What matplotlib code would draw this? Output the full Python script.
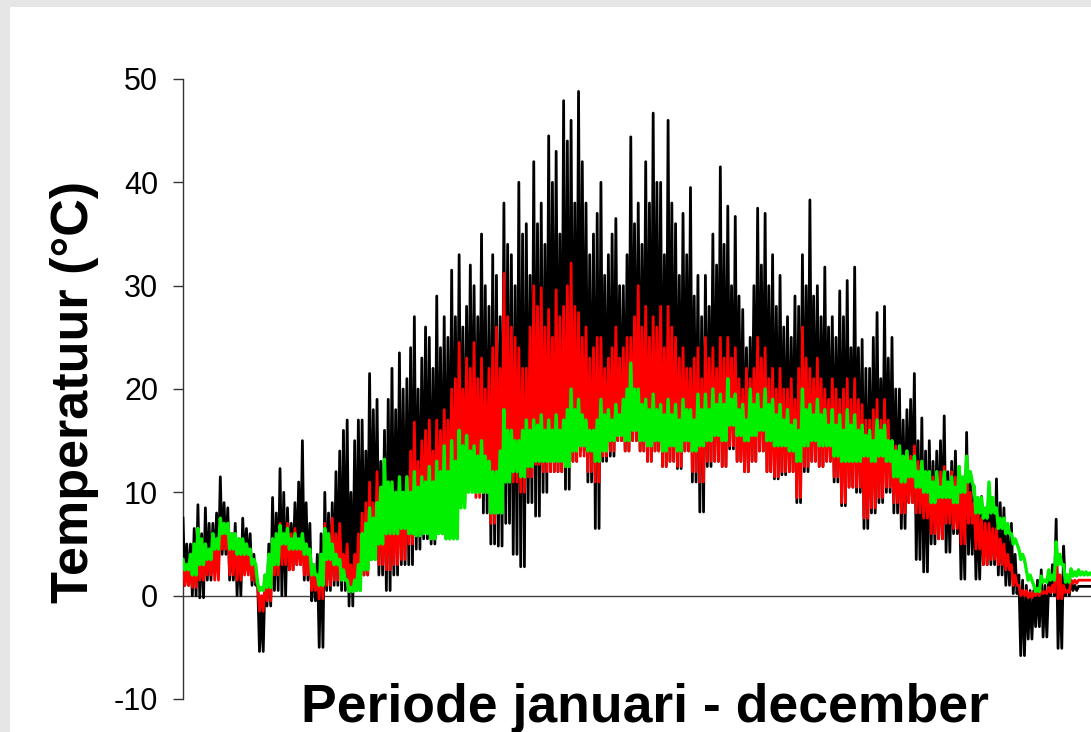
import numpy as np
import matplotlib
matplotlib.use("Agg")
import matplotlib.pyplot as plt
from matplotlib.patches import Rectangle

# values, one group every 3 days (jan -> dec):
# main peak, low, secondary peak
black_hi = [7.5, 5.0, 8.8, 8.5, 7.0, 11.5, 8.5, 7.0, 7.5, 6.0,
            1.5, 2.0, 9.5, 12.3, 8.5, 9.0, 15.0, 7.0, 4.0, 10.0,
            9.0, 14.0, 17.0, 15.0, 17.0, 21.5, 19.0, 16.0, 22.0, 23.5,
            21.0, 27.0, 23.0, 25.0, 29.0, 27.0, 31.5, 33.0, 28.0, 30.0,
            35.0, 28.0, 31.0, 38.0, 33.0, 40.0, 36.0, 42.0, 38.0, 44.5,
            43.0, 47.9, 46.0, 48.8, 38.0, 35.0, 40.0, 33.0, 36.5, 30.0,
            44.4, 38.0, 42.0, 46.7, 40.0, 46.0, 36.0, 37.0, 39.5, 31.0,
            31.0, 35.0, 41.5, 37.7, 36.7, 27.7, 25.0, 37.5, 37.0, 33.0,
            31.0, 27.0, 29.0, 33.0, 38.3, 30.0, 31.8, 27.0, 29.5, 30.5,
            31.8, 24.8, 22.0, 27.4, 28.0, 25.0, 20.0, 18.0, 21.5, 17.2,
            15.0, 14.0, 17.4, 13.0, 12.0, 15.8, 10.6, 9.6, 10.0, 11.3,
            8.5, 7.0, 2.0, 1.0, 0.5, 2.5, 1.5, 7.4, 4.8, 1.5, 0.9, 0.9]
black_lo = [1.0, 0.0, -0.2, 1.5, 2.5, 4.0, 1.5, 0.0, 3.0, 1.0,
            -5.4, -1.0, 0.5, 0.0, 2.5, 3.0, 1.5, -0.5, -5.0, 0.5,
            1.0, 0.5, -1.0, 0.5, 2.0, 3.5, 2.0, 0.5, 2.0, 3.0,
            3.0, 4.5, 5.5, 5.0, 6.0, 5.5, 8.0, 9.0, 11.0, 10.0,
            8.0, 5.0, 4.8, 7.0, 4.0, 2.8, 9.0, 7.7, 10.0, 12.0,
            12.0, 10.3, 13.0, 14.0, 11.0, 6.5, 13.0, 13.5, 15.0, 14.0,
            15.0, 14.0, 13.0, 14.0, 12.5, 13.0, 12.3, 14.0, 11.0, 8.1,
            12.5, 13.0, 12.5, 14.2, 13.0, 12.0, 13.0, 14.0, 12.0, 11.3,
            11.7, 12.0, 9.0, 12.0, 13.0, 12.5, 13.0, 11.0, 8.7, 10.5,
            10.0, 6.5, 8.0, 9.0, 10.0, 8.0, 6.5, 9.0, 3.5, 2.3,
            5.0, 5.5, 4.2, 6.0, 1.6, 4.0, 1.6, 3.0, 3.0, 2.0,
            1.0, 0.2, -5.8, -4.2, -3.0, -4.0, 0.0, -5.1, 0.0, 0.5, 0.9, 0.9]
black_mid = [5.0, 6.5, 6.0, 7.0, 8.0, 9.0, 6.0, 5.5, 6.5, 4.0,
             -1.0, 5.0, 8.0, 10.0, 7.0, 11.0, 9.0, 3.0, 6.0, 8.0,
             12.0, 16.0, 10.0, 17.0, 14.0, 18.0, 13.0, 19.0, 18.0, 20.0,
             24.0, 20.0, 26.0, 22.0, 24.0, 25.0, 27.0, 26.0, 32.0, 27.0,
             30.0, 33.0, 27.0, 34.0, 30.0, 35.0, 31.0, 36.0, 34.0, 40.0,
             35.0, 44.0, 38.0, 42.0, 33.0, 37.0, 31.0, 35.0, 30.0, 33.0,
             36.0, 34.0, 38.0, 40.0, 33.0, 38.0, 31.0, 33.0, 29.0, 27.0,
             28.0, 32.0, 34.0, 30.0, 29.0, 24.0, 30.0, 32.0, 30.0, 28.0,
             26.0, 25.0, 28.0, 30.0, 29.0, 27.0, 26.0, 25.0, 27.0, 24.0,
             24.0, 22.0, 25.0, 21.0, 23.0, 20.0, 17.0, 19.0, 15.0, 14.0,
             13.0, 15.0, 12.0, 14.0, 10.0, 11.0, 9.0, 8.0, 8.5, 9.0,
             6.0, 4.0, 1.5, 0.5, 1.5, 1.0, 3.0, 2.0, 2.0, 1.0, 0.9, 0.9]

red_hi = [3.5, 3.0, 4.0, 5.0, 5.5, 7.5, 7.0, 6.0, 5.0, 4.5,
          1.0, 1.5, 5.5, 7.0, 7.0, 6.5, 6.0, 4.0, 2.0, 7.0,
          7.5, 7.0, 5.0, 4.0, 8.0, 11.0, 12.0, 9.0, 11.0, 11.0,
          11.5, 16.8, 15.0, 17.0, 17.0, 18.0, 20.0, 24.5, 23.0, 24.5,
          23.0, 22.0, 26.0, 31.2, 26.0, 24.0, 22.0, 30.0, 29.8, 27.7,
          29.6, 28.0, 32.2, 27.4, 26.0, 24.0, 25.0, 23.0, 26.0, 24.0,
          25.0, 30.0, 28.0, 27.0, 28.0, 28.0, 25.0, 24.0, 22.0, 24.0,
          25.0, 24.0, 25.0, 25.0, 24.0, 20.0, 21.0, 25.0, 24.0, 22.0,
          22.0, 20.0, 19.0, 26.0, 22.0, 23.0, 20.0, 21.0, 19.0, 21.0,
          21.0, 18.5, 17.0, 19.0, 19.0, 15.0, 14.0, 14.0, 14.5, 13.0,
          12.0, 11.0, 12.5, 12.0, 12.5, 13.5, 9.0, 7.5, 7.0, 6.5,
          5.0, 3.0, 1.0, 0.5, 0.3, 0.5, 0.8, 5.0, 1.0, 1.5, 1.5, 1.5]
red_lo = [1.0, 0.8, 1.5, 2.0, 1.5, 4.5, 2.0, 1.5, 2.0, 1.5,
          -1.5, -0.5, 2.0, 3.0, 2.5, 3.0, 2.0, 0.5, -0.3, 1.0,
          1.5, 2.0, 0.5, 1.0, 2.0, 3.5, 3.0, 2.5, 3.0, 3.5,
          5.0, 6.0, 7.0, 7.5, 8.0, 9.0, 10.0, 12.0, 10.5, 9.5,
          10.0, 7.0, 9.0, 12.0, 11.0, 10.0, 11.5, 12.7, 12.0, 12.0,
          12.0, 12.5, 13.0, 13.5, 12.0, 11.0, 13.5, 14.0, 15.0, 14.0,
          15.0, 14.0, 13.0, 14.0, 12.5, 13.0, 12.5, 14.0, 12.0, 11.0,
          13.0, 13.0, 12.5, 14.5, 13.0, 12.0, 13.0, 14.0, 12.0, 11.5,
          12.0, 12.0, 9.5, 12.5, 13.0, 12.5, 13.0, 11.5, 9.0, 10.5,
          10.5, 7.5, 8.5, 9.5, 10.5, 9.0, 8.0, 9.0, 8.0, 7.5,
          6.0, 5.5, 7.0, 6.5, 5.0, 7.0, 4.5, 3.0, 3.5, 3.0,
          2.5, 1.0, 0.0, -0.2, 0.0, 0.2, 0.3, -0.3, 0.3, 1.2, 1.5, 1.5]
red_mid = [2.5, 3.5, 3.0, 4.5, 5.0, 6.5, 6.0, 5.0, 4.0, 3.5,
           0.0, 3.5, 5.0, 6.0, 6.0, 5.5, 5.0, 2.0, 3.5, 6.0,
           6.0, 4.0, 3.0, 6.0, 9.0, 9.0, 10.0, 10.0, 9.0, 10.0,
           14.0, 13.0, 16.0, 14.0, 16.0, 17.0, 21.0, 20.0, 22.0, 21.0,
           20.0, 24.0, 22.0, 27.0, 25.0, 22.0, 26.0, 28.0, 26.0, 25.0,
           27.0, 30.0, 28.0, 25.0, 23.0, 25.0, 22.0, 24.0, 23.0, 25.0,
           27.0, 26.0, 25.0, 26.0, 24.0, 26.0, 23.0, 22.0, 23.0, 21.0,
           23.0, 22.0, 23.0, 23.0, 21.0, 22.0, 22.0, 23.0, 21.0, 20.0,
           20.0, 21.0, 22.0, 23.0, 21.0, 21.0, 19.0, 20.0, 20.0, 19.0,
           19.0, 17.0, 18.0, 17.0, 17.0, 14.5, 13.0, 13.5, 13.0, 12.0,
           11.5, 12.0, 11.0, 11.5, 11.0, 10.0, 8.0, 7.0, 6.5, 5.5,
           4.0, 2.0, 0.5, 0.3, 0.5, 0.4, 1.0, 2.0, 0.5, 1.5, 1.5, 1.5]

green_hi = [3.5, 4.0, 6.5, 5.0, 6.0, 7.5, 7.0, 6.0, 5.5, 4.5,
            1.2, 2.0, 5.5, 6.8, 6.5, 6.0, 6.0, 4.5, 2.0, 6.5,
            5.0, 3.5, 1.5, 1.5, 6.0, 8.5, 9.0, 13.2, 11.0, 11.5,
            11.5, 12.0, 11.5, 12.5, 13.0, 14.5, 15.0, 16.0, 15.5, 14.5,
            15.0, 13.0, 12.0, 18.0, 16.0, 15.0, 17.0, 17.0, 17.5, 17.0,
            17.5, 17.0, 20.0, 19.0, 17.0, 16.0, 19.0, 18.0, 18.5, 19.0,
            22.5, 20.0, 19.0, 19.5, 18.5, 19.0, 18.5, 19.0, 18.0, 19.5,
            19.5, 20.0, 19.5, 21.0, 19.5, 18.5, 20.0, 19.5, 20.0, 19.0,
            18.5, 18.0, 17.0, 20.0, 18.5, 19.0, 18.0, 18.0, 17.5, 18.0,
            17.5, 16.5, 16.0, 17.0, 16.5, 15.0, 14.5, 14.0, 13.5, 13.0,
            12.0, 12.0, 12.0, 11.5, 12.5, 13.5, 10.5, 9.5, 11.0, 8.5,
            7.5, 6.0, 4.5, 2.5, 1.0, 1.9, 2.5, 5.2, 3.0, 2.6, 2.5, 2.3]
green_lo = [2.5, 2.0, 3.0, 3.5, 4.5, 6.0, 4.5, 4.0, 4.0, 3.0,
            0.5, 0.8, 3.0, 5.0, 4.5, 4.5, 4.0, 2.0, 1.0, 3.5,
            3.0, 1.5, 0.4, 0.5, 2.5, 3.5, 5.0, 6.0, 6.0, 6.5,
            6.0, 5.8, 6.0, 5.5, 6.0, 5.5, 5.5, 8.5, 10.0, 10.0,
            10.0, 8.0, 8.0, 11.0, 12.0, 11.5, 12.5, 13.0, 13.0, 13.0,
            13.0, 12.5, 14.0, 14.5, 14.0, 13.0, 14.0, 15.0, 15.5, 15.0,
            16.0, 15.0, 14.5, 15.0, 14.0, 14.5, 14.0, 15.0, 14.0, 14.5,
            15.0, 15.5, 15.0, 16.5, 15.5, 15.0, 15.5, 16.0, 15.0, 14.5,
            14.5, 14.0, 13.0, 14.5, 15.0, 14.5, 14.5, 13.5, 13.0, 13.0,
            13.0, 13.5, 13.0, 13.5, 13.0, 11.5, 11.0, 11.5, 10.5, 10.0,
            9.0, 9.5, 9.5, 9.0, 10.0, 11.0, 8.0, 7.5, 8.0, 6.5,
            6.0, 5.0, 3.5, 1.5, 0.4, 1.3, 1.5, 3.0, 1.3, 1.9, 2.0, 2.0]
green_mid = [3.0, 5.0, 5.5, 4.5, 5.5, 7.0, 6.0, 5.5, 5.0, 3.5,
             0.8, 4.0, 6.0, 6.0, 5.5, 5.5, 5.0, 3.0, 4.0, 6.0,
             4.0, 2.5, 0.8, 3.0, 7.0, 7.5, 10.5, 11.0, 10.0, 10.0,
             10.0, 10.5, 11.0, 11.0, 12.0, 12.0, 13.0, 14.5, 14.0, 13.5,
             13.5, 12.0, 14.0, 16.0, 15.0, 16.0, 16.0, 16.5, 16.0, 16.0,
             16.0, 18.0, 18.0, 17.5, 16.0, 17.0, 17.5, 17.0, 17.5, 20.0,
             20.0, 18.5, 18.0, 18.0, 17.5, 17.5, 17.0, 18.0, 17.0, 18.0,
             18.0, 18.5, 18.5, 19.0, 18.0, 17.0, 18.5, 18.0, 18.5, 17.5,
             17.0, 16.5, 16.0, 18.0, 17.5, 17.5, 16.5, 16.5, 16.0, 16.5,
             16.0, 15.5, 15.0, 16.0, 15.0, 14.0, 13.5, 13.0, 12.0, 12.0,
             11.0, 10.5, 11.0, 10.5, 11.5, 12.0, 9.5, 8.5, 9.5, 7.5,
             7.0, 5.5, 4.0, 2.0, 0.7, 1.5, 2.0, 4.0, 2.0, 2.3, 2.3, 2.2]

y_ticks = [-10, 0, 10, 20, 30, 40, 50]


def daily_trace(hi, lo, mid):
    # per 3 day group: peak, low, second peak, low again
    vals = np.column_stack([hi, lo, mid, lo]).ravel()
    days = np.arange(len(vals)) * 0.75
    return days, vals


plt.rcParams['font.family'] = ['Liberation Sans', 'DejaVu Sans']
plt.rcParams['axes.unicode_minus'] = False

fig = plt.figure(figsize=(10.91, 7.32), dpi=100)
fig.patch.set_facecolor('#e6e6e6')
fig.patches.append(Rectangle((10 / 1091, 0), 1, 1 - 7 / 732, transform=fig.transFigure,
                             facecolor='white', edgecolor='none', zorder=-5))

ax = fig.add_axes([183 / 1091, 33 / 732, 908 / 1091, 620 / 732])
ax.set_facecolor('none')

for hi, lo, mid, col, lw in [(black_hi, black_lo, black_mid, '#000000', 2.0),
                             (red_hi, red_lo, red_mid, '#ff0000', 2.0),
                             (green_hi, green_lo, green_mid, '#00f000', 2.4)]:
    d, v = daily_trace(hi, lo, mid)
    ax.plot(d, v, color=col, linewidth=lw, zorder=3)

ax.axhline(0, color='#404040', linewidth=1.0, zorder=1)

ax.set_xlim(0, 365)
ax.set_ylim(-10, 50)
ax.set_yticks(y_ticks)
ax.set_xticks([])
for s in ['top', 'right', 'bottom']:
    ax.spines[s].set_visible(False)
ax.spines['left'].set_color('#333333')
ax.spines['left'].set_linewidth(1.0)
ax.tick_params(axis='y', direction='out', length=7, width=1.0, color='#333333',
               pad=11, labelsize=22, labelcolor='black')

fig.text(75 / 1091, 1 - 392 / 732, 'Temperatuur (°C)', rotation=90, ha='center', va='center',
         fontsize=37.5, fontweight='bold')
fig.text(645 / 1091, 10 / 732, 'Periode januari - december', ha='center', va='baseline',
         fontsize=38.5, fontweight='bold')

fig.savefig('out.png', dpi=100, facecolor=fig.get_facecolor())
